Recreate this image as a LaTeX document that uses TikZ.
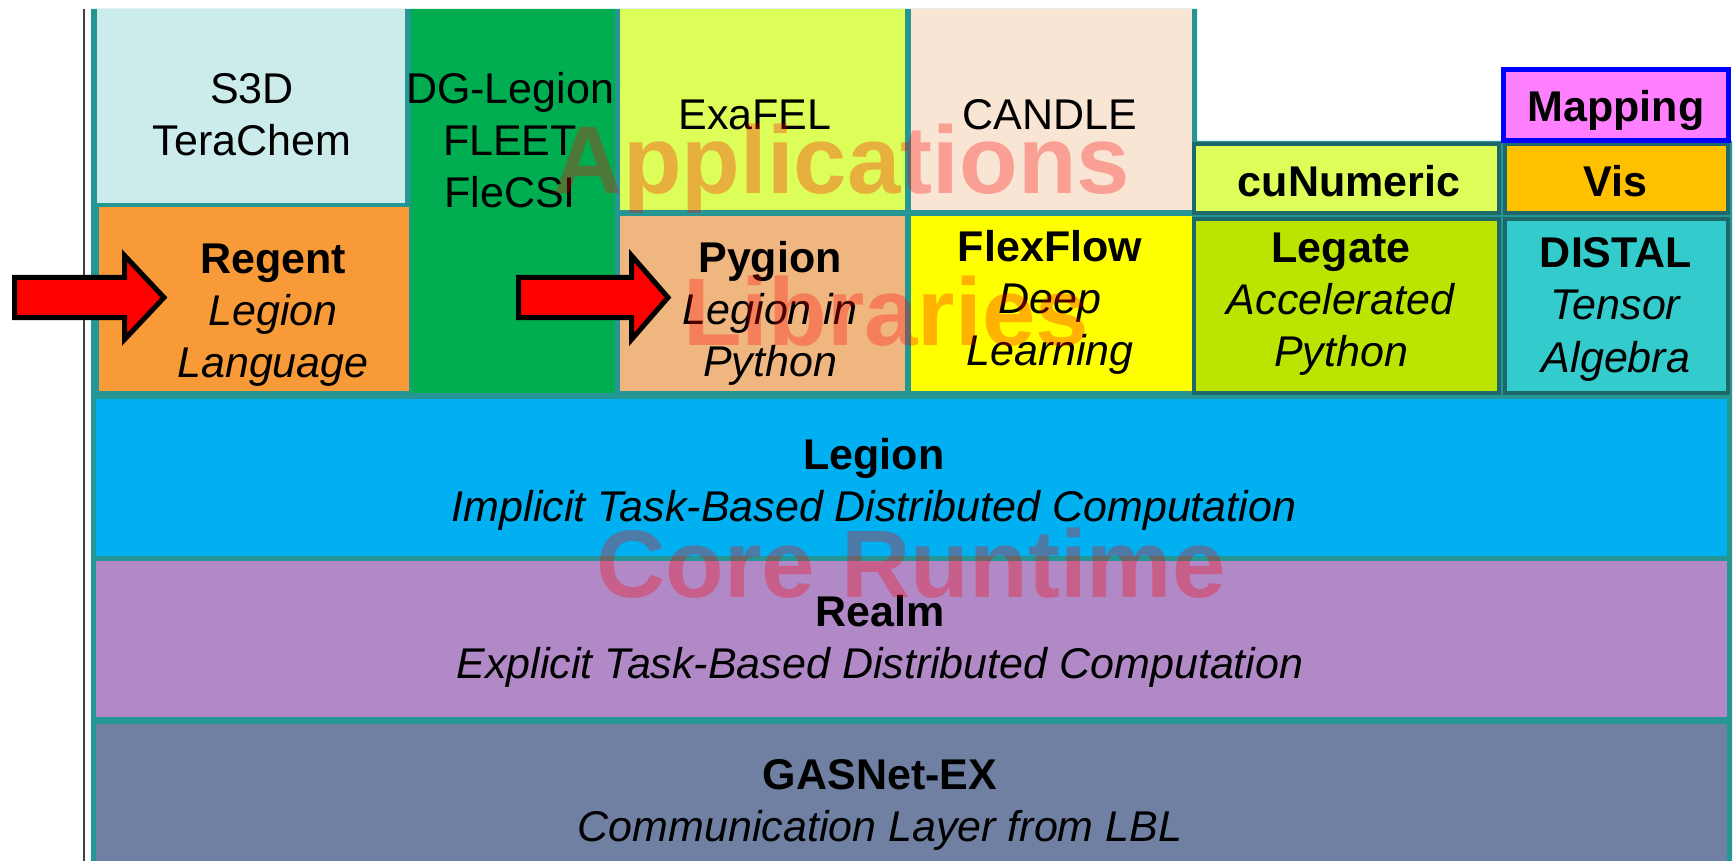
\documentclass[tikz,border=0pt]{standalone}
\usepackage{fontspec}
\setmainfont{Liberation Sans}
\usepackage{graphicx}
\definecolor{tealb}{RGB}{38,150,148}
\definecolor{darkteal}{RGB}{30,104,106}
\definecolor{cs3d}{RGB}{204,235,235}
\definecolor{cregent}{RGB}{249,154,56}
\definecolor{cgreen}{RGB}{0,173,80}
\definecolor{cexafel}{RGB}{221,253,88}
\definecolor{ccandle}{RGB}{249,229,211}
\definecolor{cpygion}{RGB}{240,182,128}
\definecolor{cflex}{RGB}{255,255,0}
\definecolor{ccunum}{RGB}{221,253,88}
\definecolor{clegate}{RGB}{187,229,0}
\definecolor{cmapping}{RGB}{255,128,255}
\definecolor{cvis}{RGB}{255,192,0}
\definecolor{cdistal}{RGB}{51,203,203}
\definecolor{clegion}{RGB}{0,176,240}
\definecolor{crealm}{RGB}{176,137,198}
\definecolor{cgasnet}{RGB}{111,128,162}
\definecolor{mapblue}{RGB}{0,0,255}
\newcommand\boxlines[1]{\begin{tabular}[t]{@{}c@{}}#1\end{tabular}}
\tikzset{
  lbl/.style={anchor=base, inner sep=0pt, font=\fontsize{21.5}{26}\selectfont, text=black},
  wm/.style={anchor=base, inner sep=0pt, font=\fontsize{48}{48}\selectfont\bfseries, text=red, text opacity=0.3},
  cell/.style={fill=#1, draw=none},
  libcell/.style={fill=#1, draw=darkteal, line width=2pt},
  bigarrow/.style={fill=red, draw=black, line width=2.5pt, line join=miter},
}
\begin{document}
\begin{tikzpicture}[x=0.5pt, y=-0.5pt]
\useasboundingbox (0,0) rectangle (1734,861);
\fill[white] (0,0) rectangle (1734,861);
% left rule
\draw[line width=1pt, black!75] (84,9) -- (84,861);
% teal backing
\fill[tealb] (91,9) -- (1197,9) -- (1197,141) -- (1732,141) -- (1732,861) -- (91,861) -- cycle;
% application / library cells
\path[cell=cs3d] (97,9) rectangle (405,203);
\path[cell=cregent] (99,207) rectangle (409,391);
\path[cell=cgreen] (411,9) rectangle (615,393);
\path[cell=cexafel] (620,9) rectangle (905,210);
\path[cell=ccandle] (911,9) rectangle (1192,210);
\path[cell=cpygion] (620,216) rectangle (905,391);
\path[cell=cflex] (911,216) rectangle (1192,391);
\path[libcell=ccunum] (1194,144) rectangle (1499,213);
\path[libcell=clegate] (1194,219) rectangle (1499,393);
\path[libcell=cvis] (1505,144) rectangle (1728,213);
\path[libcell=cdistal] (1505,219) rectangle (1728,393);
\path[fill=cmapping, draw=mapblue, line width=2.5pt] (1503.5,69.5) rectangle (1728.5,140.5);
% core runtime layers
\path[cell=clegion] (96,399) rectangle (1727,556);
\path[cell=crealm] (96,561) rectangle (1727,717);
\path[cell=cgasnet] (96,724) rectangle (1727,861);
% texts
\node[lbl] (s3d) at (252,104) {\boxlines{S3D\\TeraChem}};
\node[lbl] (dg) at (510,104) {\boxlines{DG-Legion\\FLEET\\FleCSI}};
\node[lbl] (exafel) at (755,130) {ExaFEL};
\node[lbl] (candle) at (1050,130) {CANDLE};
\node[lbl] (regent) at (273,273) {\boxlines{\textbf{Regent}\\\textit{Legion}\\\textit{Language}}};
\node[lbl] (pygion) at (770,272) {\boxlines{\textbf{Pygion}\\\textit{Legion in}\\\textit{Python}}};
\node[lbl] (flexflow) at (1050,262) {\boxlines{\textbf{FlexFlow}\\\textit{Deep}\\\textit{Learning}}};
\node[lbl] (cunumeric) at (1349,197) {\textbf{cuNumeric}};
\node[lbl] (vis) at (1615,197) {\textbf{Vis}};
\node[lbl] (mapping) at (1616,122) {\textbf{Mapping}};
\node[lbl] (legate) at (1341,263) {\boxlines{\textbf{Legate}\\\textit{Accelerated}\\\textit{Python}}};
\node[lbl] (distal) at (1616,268) {\boxlines{\textbf{DISTAL}\\\textit{Tensor}\\\textit{Algebra}}};
\node[lbl] (legion) at (874,469) {\boxlines{\textbf{Legion}\\\textit{Implicit Task-Based Distributed Computation}}};
\node[lbl] (realm) at (880,626) {\boxlines{\textbf{Realm}\\\textit{Explicit Task-Based Distributed Computation}}};
\node[lbl] (gasnet) at (880,789) {\boxlines{\textbf{GASNet-EX}\\\textit{Communication Layer from LBL}}};
% watermarks
\node[wm] (wmapps) at (842,194) {Applications};
\node[wm] (wmlibs) at (886,345) {Libraries};
\node[wm] (wmcore) at (911,597) {Core Runtime};
% arrows
\draw[bigarrow] (14.5,277.5) -- (124.5,277.5) -- (124.5,255.5) -- (164,297.5) -- (124.5,339.5) -- (124.5,317.5) -- (14.5,317.5) -- cycle;
\draw[bigarrow] (518.5,277.5) -- (631.5,277.5) -- (631.5,255.5) -- (668,297.5) -- (631.5,339.5) -- (631.5,317.5) -- (518.5,317.5) -- cycle;
\end{tikzpicture}
\end{document}
